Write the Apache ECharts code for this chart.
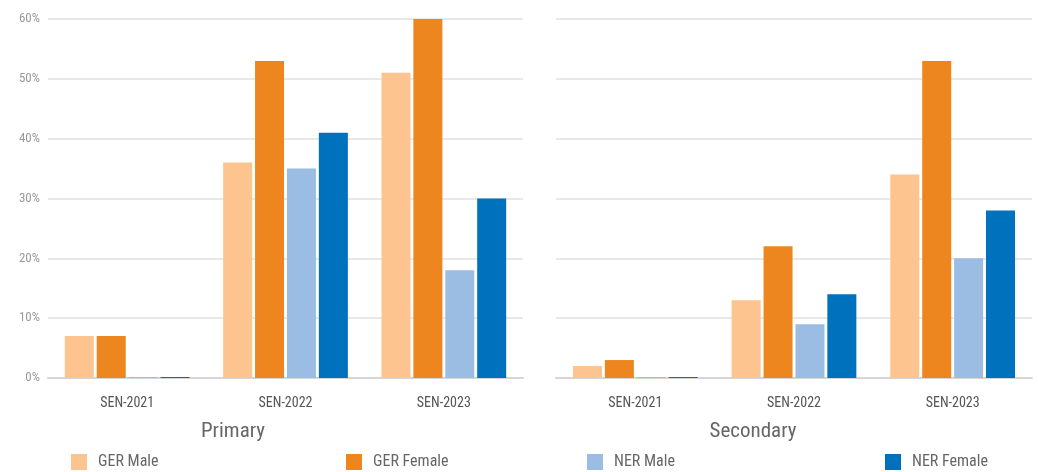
<!DOCTYPE html>
<html>
<head>
<meta charset="utf-8">
<script src="https://cdn.jsdelivr.net/npm/echarts@6/dist/echarts.min.js"></script>
<style>html,body{margin:0;padding:0;background:#fff}#c{width:1038px;height:472px}</style>
</head>
<body>
<div id="c"></div>
<script>
const categories = ['SEN-2021', 'SEN-2022', 'SEN-2023'];
const panels = ['Primary', 'Secondary'];
const seriesNames = ['GER Male', 'GER Female', 'NER Male', 'NER Female'];
const colors = ['#fdc48f', '#ee861f', '#9bbce3', '#0071bc'];
const yTicks = [0, 10, 20, 30, 40, 50, 60];
const primaryGERMale = [7, 36, 51];
const primaryGERFemale = [7, 53, 60];
const primaryNERMale = [0, 35, 18];
const primaryNERFemale = [0, 41, 30];
const secondaryGERMale = [2, 13, 34];
const secondaryGERFemale = [3, 22, 53];
const secondaryNERMale = [0, 9, 20];
const secondaryNERFemale = [0, 14, 28];

const panelData = [
  [primaryGERMale, primaryGERFemale, primaryNERMale, primaryNERFemale],
  [secondaryGERMale, secondaryGERFemale, secondaryNERMale, secondaryNERFemale]
];

const FONT = "'Roboto Condensed', 'Liberation Sans Narrow', Roboto, sans-serif";
const chart = echarts.init(document.getElementById('c'));

const grids = [
  { left: 48, right: 515, top: 19, bottom: 94 },
  { left: 556, right: 6, top: 19, bottom: 94 }
];

const xAxes = grids.map((g, i) => ({
  type: 'category', gridIndex: i, data: categories,
  axisLine: { lineStyle: { color: '#d6d6d6', width: 2 } },
  axisTick: { inside: true, length: 8, lineStyle: { color: '#d6d6d6', width: 2 } },
  axisLabel: { color: '#555', fontSize: 14, fontFamily: FONT, margin: 18 }
}));

const yAxes = grids.map((g, i) => ({
  type: 'value', gridIndex: i, min: yTicks[0], max: yTicks[yTicks.length - 1], interval: 10,
  axisLine: { show: false }, axisTick: { show: false },
  splitLine: { lineStyle: { color: '#e8e8e8', width: 2 } },
  axisLabel: { show: i === 0, color: '#999', fontSize: 13, fontFamily: FONT, margin: 8, formatter: '{value}%' }
}));

const series = [];
panelData.forEach((arrs, p) => {
  arrs.forEach((arr, s) => {
    series.push({
      type: 'bar', name: seriesNames[s], xAxisIndex: p, yAxisIndex: p,
      data: arr, barWidth: 29, barGap: '10%', barMinHeight: 1,
      itemStyle: { color: colors[s] },
      emphasis: { disabled: true }
    });
  });
});

const legendLefts = [71, 346, 587, 885];
const legends = seriesNames.map((n, i) => ({
  data: [n], left: legendLefts[i], top: 454, padding: 0, itemWidth: 16, itemHeight: 16, itemGap: 10,
  icon: 'rect', textStyle: { color: '#666', fontSize: 16, fontFamily: FONT, padding: [0, 0, 0, 6] },
  selectedMode: false
}));

const titleCenters = [228, 748];
const titles = panels.map((t, i) => ({
  text: t, left: titleCenters[i], top: 416, textAlign: 'center',
  textStyle: { color: '#666', fontSize: 21, fontWeight: 'normal', fontFamily: FONT }
}));

chart.setOption({
  animation: false,
  color: colors,
  title: titles,
  legend: legends,
  grid: grids,
  xAxis: xAxes,
  yAxis: yAxes,
  series: series
});
</script>
</body>
</html>
